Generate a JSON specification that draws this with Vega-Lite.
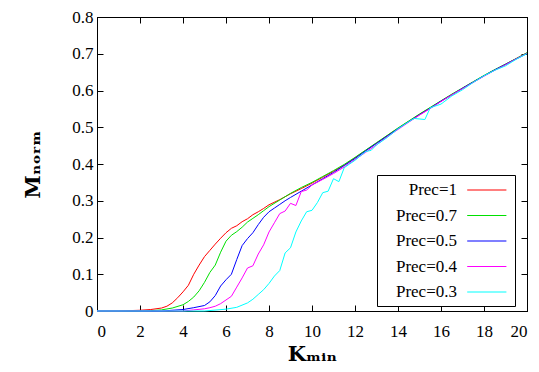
{
  "$schema": "https://vega.github.io/schema/vega-lite/v6.json",
  "width": 430,
  "height": 294,
  "autosize": {"type": "none"},
  "padding": {"left": 97, "top": 17, "right": 12, "bottom": 61},
  "background": "white",
  "config": {
    "view": {"stroke": "black", "strokeWidth": 1},
    "font": "Liberation Serif",
    "axis": {
      "grid": false,
      "domainColor": "black",
      "tickColor": "black",
      "tickSize": -6,
      "labelColor": "black",
      "labelFont": "Liberation Serif",
      "labelFontSize": 17,
      "titleFont": "DejaVu Serif",
      "titleFontSize": 21,
      "titleFontWeight": "bold",
      "titleColor": "black"
    }
  },
  "datasets": {
    "d": [
      {"s":"Prec=1","k":0,"m":0},{"s":"Prec=1","k":1,"m":0},{"s":"Prec=1","k":2,"m":0.002},{"s":"Prec=1","k":2.5,"m":0.004},{"s":"Prec=1","k":3,"m":0.008},{"s":"Prec=1","k":3.25,"m":0.013},{"s":"Prec=1","k":3.5,"m":0.022},{"s":"Prec=1","k":3.75,"m":0.036},{"s":"Prec=1","k":4,"m":0.052},{"s":"Prec=1","k":4.25,"m":0.07},{"s":"Prec=1","k":4.5,"m":0.1},{"s":"Prec=1","k":4.75,"m":0.125},{"s":"Prec=1","k":5,"m":0.148},{"s":"Prec=1","k":5.25,"m":0.165},{"s":"Prec=1","k":5.5,"m":0.182},{"s":"Prec=1","k":5.75,"m":0.198},{"s":"Prec=1","k":6,"m":0.213},{"s":"Prec=1","k":6.25,"m":0.225},{"s":"Prec=1","k":6.5,"m":0.232},{"s":"Prec=1","k":6.75,"m":0.243},{"s":"Prec=1","k":7,"m":0.251},{"s":"Prec=1","k":7.25,"m":0.262},{"s":"Prec=1","k":7.5,"m":0.27},{"s":"Prec=1","k":7.75,"m":0.279},{"s":"Prec=1","k":8,"m":0.289},{"s":"Prec=1","k":8.5,"m":0.303},{"s":"Prec=1","k":9,"m":0.319},{"s":"Prec=1","k":9.5,"m":0.333},{"s":"Prec=1","k":10,"m":0.348},{"s":"Prec=1","k":10.5,"m":0.364},{"s":"Prec=1","k":11,"m":0.38},{"s":"Prec=1","k":11.5,"m":0.397},{"s":"Prec=1","k":12,"m":0.417},{"s":"Prec=1","k":12.5,"m":0.437},{"s":"Prec=1","k":13,"m":0.457},{"s":"Prec=1","k":13.5,"m":0.477},{"s":"Prec=1","k":14,"m":0.497},{"s":"Prec=1","k":14.5,"m":0.516},{"s":"Prec=1","k":15,"m":0.535},{"s":"Prec=1","k":15.5,"m":0.553},{"s":"Prec=1","k":16,"m":0.571},{"s":"Prec=1","k":16.5,"m":0.589},{"s":"Prec=1","k":17,"m":0.606},{"s":"Prec=1","k":17.5,"m":0.623},{"s":"Prec=1","k":18,"m":0.64},{"s":"Prec=1","k":18.5,"m":0.656},{"s":"Prec=1","k":19,"m":0.671},{"s":"Prec=1","k":19.5,"m":0.687},{"s":"Prec=1","k":20,"m":0.702},
      {"s":"Prec=0.7","k":0,"m":0},{"s":"Prec=0.7","k":2,"m":0},{"s":"Prec=0.7","k":2.5,"m":0.001},{"s":"Prec=0.7","k":3,"m":0.003},{"s":"Prec=0.7","k":3.5,"m":0.008},{"s":"Prec=0.7","k":4,"m":0.017},{"s":"Prec=0.7","k":4.25,"m":0.026},{"s":"Prec=0.7","k":4.5,"m":0.038},{"s":"Prec=0.7","k":4.75,"m":0.055},{"s":"Prec=0.7","k":5,"m":0.078},{"s":"Prec=0.7","k":5.25,"m":0.105},{"s":"Prec=0.7","k":5.5,"m":0.125},{"s":"Prec=0.7","k":5.75,"m":0.16},{"s":"Prec=0.7","k":6,"m":0.19},{"s":"Prec=0.7","k":6.25,"m":0.206},{"s":"Prec=0.7","k":6.5,"m":0.216},{"s":"Prec=0.7","k":6.75,"m":0.228},{"s":"Prec=0.7","k":7,"m":0.242},{"s":"Prec=0.7","k":7.25,"m":0.252},{"s":"Prec=0.7","k":7.5,"m":0.262},{"s":"Prec=0.7","k":7.75,"m":0.273},{"s":"Prec=0.7","k":8,"m":0.284},{"s":"Prec=0.7","k":8.5,"m":0.302},{"s":"Prec=0.7","k":9,"m":0.32},{"s":"Prec=0.7","k":9.5,"m":0.336},{"s":"Prec=0.7","k":10,"m":0.35},{"s":"Prec=0.7","k":10.5,"m":0.366},{"s":"Prec=0.7","k":11,"m":0.382},{"s":"Prec=0.7","k":11.5,"m":0.399},{"s":"Prec=0.7","k":12,"m":0.418},{"s":"Prec=0.7","k":12.5,"m":0.438},{"s":"Prec=0.7","k":13,"m":0.458},{"s":"Prec=0.7","k":13.5,"m":0.478},{"s":"Prec=0.7","k":14,"m":0.498},{"s":"Prec=0.7","k":14.5,"m":0.517},{"s":"Prec=0.7","k":15,"m":0.536},{"s":"Prec=0.7","k":15.5,"m":0.554},{"s":"Prec=0.7","k":16,"m":0.572},{"s":"Prec=0.7","k":16.5,"m":0.59},{"s":"Prec=0.7","k":17,"m":0.607},{"s":"Prec=0.7","k":17.5,"m":0.624},{"s":"Prec=0.7","k":18,"m":0.641},{"s":"Prec=0.7","k":18.5,"m":0.657},{"s":"Prec=0.7","k":19,"m":0.672},{"s":"Prec=0.7","k":19.5,"m":0.687},{"s":"Prec=0.7","k":20,"m":0.703},
      {"s":"Prec=0.5","k":0,"m":0},{"s":"Prec=0.5","k":3,"m":0},{"s":"Prec=0.5","k":4,"m":0.004},{"s":"Prec=0.5","k":4.5,"m":0.009},{"s":"Prec=0.5","k":5,"m":0.015},{"s":"Prec=0.5","k":5.25,"m":0.025},{"s":"Prec=0.5","k":5.5,"m":0.042},{"s":"Prec=0.5","k":5.75,"m":0.068},{"s":"Prec=0.5","k":6,"m":0.085},{"s":"Prec=0.5","k":6.25,"m":0.1},{"s":"Prec=0.5","k":6.5,"m":0.14},{"s":"Prec=0.5","k":6.75,"m":0.178},{"s":"Prec=0.5","k":7,"m":0.197},{"s":"Prec=0.5","k":7.25,"m":0.213},{"s":"Prec=0.5","k":7.5,"m":0.235},{"s":"Prec=0.5","k":7.75,"m":0.255},{"s":"Prec=0.5","k":8,"m":0.27},{"s":"Prec=0.5","k":8.25,"m":0.28},{"s":"Prec=0.5","k":8.5,"m":0.29},{"s":"Prec=0.5","k":8.75,"m":0.3},{"s":"Prec=0.5","k":9,"m":0.309},{"s":"Prec=0.5","k":9.5,"m":0.326},{"s":"Prec=0.5","k":10,"m":0.343},{"s":"Prec=0.5","k":10.5,"m":0.36},{"s":"Prec=0.5","k":11,"m":0.377},{"s":"Prec=0.5","k":11.5,"m":0.396},{"s":"Prec=0.5","k":12,"m":0.415},{"s":"Prec=0.5","k":12.5,"m":0.436},{"s":"Prec=0.5","k":13,"m":0.456},{"s":"Prec=0.5","k":13.5,"m":0.476},{"s":"Prec=0.5","k":14,"m":0.496},{"s":"Prec=0.5","k":14.5,"m":0.515},{"s":"Prec=0.5","k":15,"m":0.534},{"s":"Prec=0.5","k":15.5,"m":0.552},{"s":"Prec=0.5","k":16,"m":0.571},{"s":"Prec=0.5","k":16.5,"m":0.588},{"s":"Prec=0.5","k":17,"m":0.606},{"s":"Prec=0.5","k":17.5,"m":0.623},{"s":"Prec=0.5","k":18,"m":0.64},{"s":"Prec=0.5","k":18.5,"m":0.656},{"s":"Prec=0.5","k":19,"m":0.671},{"s":"Prec=0.5","k":19.5,"m":0.686},{"s":"Prec=0.5","k":20,"m":0.701},
      {"s":"Prec=0.4","k":0,"m":0},{"s":"Prec=0.4","k":4,"m":0},{"s":"Prec=0.4","k":4.5,"m":0.003},{"s":"Prec=0.4","k":5,"m":0.006},{"s":"Prec=0.4","k":5.25,"m":0.009},{"s":"Prec=0.4","k":5.5,"m":0.013},{"s":"Prec=0.4","k":5.75,"m":0.02},{"s":"Prec=0.4","k":6,"m":0.03},{"s":"Prec=0.4","k":6.25,"m":0.04},{"s":"Prec=0.4","k":6.5,"m":0.065},{"s":"Prec=0.4","k":6.75,"m":0.09},{"s":"Prec=0.4","k":7,"m":0.117},{"s":"Prec=0.4","k":7.25,"m":0.123},{"s":"Prec=0.4","k":7.5,"m":0.155},{"s":"Prec=0.4","k":7.75,"m":0.18},{"s":"Prec=0.4","k":8,"m":0.215},{"s":"Prec=0.4","k":8.25,"m":0.24},{"s":"Prec=0.4","k":8.5,"m":0.265},{"s":"Prec=0.4","k":8.75,"m":0.272},{"s":"Prec=0.4","k":9,"m":0.293},{"s":"Prec=0.4","k":9.25,"m":0.287},{"s":"Prec=0.4","k":9.5,"m":0.325},{"s":"Prec=0.4","k":9.75,"m":0.329},{"s":"Prec=0.4","k":10,"m":0.343},{"s":"Prec=0.4","k":10.5,"m":0.358},{"s":"Prec=0.4","k":11,"m":0.374},{"s":"Prec=0.4","k":11.5,"m":0.392},{"s":"Prec=0.4","k":12,"m":0.412},{"s":"Prec=0.4","k":12.5,"m":0.432},{"s":"Prec=0.4","k":13,"m":0.452},{"s":"Prec=0.4","k":13.5,"m":0.474},{"s":"Prec=0.4","k":14,"m":0.494},{"s":"Prec=0.4","k":14.5,"m":0.514},{"s":"Prec=0.4","k":15,"m":0.533},{"s":"Prec=0.4","k":15.5,"m":0.551},{"s":"Prec=0.4","k":16,"m":0.57},{"s":"Prec=0.4","k":16.5,"m":0.588},{"s":"Prec=0.4","k":17,"m":0.605},{"s":"Prec=0.4","k":17.5,"m":0.622},{"s":"Prec=0.4","k":18,"m":0.639},{"s":"Prec=0.4","k":18.5,"m":0.655},{"s":"Prec=0.4","k":19,"m":0.67},{"s":"Prec=0.4","k":19.5,"m":0.686},{"s":"Prec=0.4","k":20,"m":0.701},
      {"s":"Prec=0.3","k":0,"m":0},{"s":"Prec=0.3","k":5,"m":0},{"s":"Prec=0.3","k":6,"m":0.005},{"s":"Prec=0.3","k":6.5,"m":0.01},{"s":"Prec=0.3","k":7,"m":0.022},{"s":"Prec=0.3","k":7.25,"m":0.032},{"s":"Prec=0.3","k":7.5,"m":0.045},{"s":"Prec=0.3","k":7.75,"m":0.058},{"s":"Prec=0.3","k":8,"m":0.075},{"s":"Prec=0.3","k":8.25,"m":0.095},{"s":"Prec=0.3","k":8.5,"m":0.11},{"s":"Prec=0.3","k":8.75,"m":0.158},{"s":"Prec=0.3","k":9,"m":0.172},{"s":"Prec=0.3","k":9.25,"m":0.215},{"s":"Prec=0.3","k":9.5,"m":0.245},{"s":"Prec=0.3","k":9.75,"m":0.27},{"s":"Prec=0.3","k":10,"m":0.274},{"s":"Prec=0.3","k":10.25,"m":0.295},{"s":"Prec=0.3","k":10.5,"m":0.322},{"s":"Prec=0.3","k":10.75,"m":0.326},{"s":"Prec=0.3","k":11,"m":0.36},{"s":"Prec=0.3","k":11.25,"m":0.352},{"s":"Prec=0.3","k":11.5,"m":0.39},{"s":"Prec=0.3","k":11.75,"m":0.4},{"s":"Prec=0.3","k":12,"m":0.41},{"s":"Prec=0.3","k":12.5,"m":0.434},{"s":"Prec=0.3","k":12.75,"m":0.437},{"s":"Prec=0.3","k":13,"m":0.452},{"s":"Prec=0.3","k":13.5,"m":0.472},{"s":"Prec=0.3","k":14,"m":0.496},{"s":"Prec=0.3","k":14.5,"m":0.515},{"s":"Prec=0.3","k":14.75,"m":0.524},{"s":"Prec=0.3","k":15.25,"m":0.521},{"s":"Prec=0.3","k":15.5,"m":0.553},{"s":"Prec=0.3","k":16,"m":0.563},{"s":"Prec=0.3","k":16.5,"m":0.585},{"s":"Prec=0.3","k":17,"m":0.602},{"s":"Prec=0.3","k":17.5,"m":0.622},{"s":"Prec=0.3","k":18,"m":0.64},{"s":"Prec=0.3","k":18.5,"m":0.655},{"s":"Prec=0.3","k":19,"m":0.667},{"s":"Prec=0.3","k":19.5,"m":0.685},{"s":"Prec=0.3","k":20,"m":0.7}
    ]
  },
  "data": {"name": "d"},
  "layer": [
    {
      "mark": {"type": "line", "strokeWidth": 1},
      "encoding": {
        "x": {
          "field": "k", "type": "quantitative",
          "scale": {"domain": [0, 20], "nice": false},
          "axis": {"orient": "bottom", "title": "Kₘᵢₙ", "values": [0,2,4,6,8,10,12,14,16,18,20], "labelPadding": 18, "titlePadding": 4}
        },
        "y": {
          "field": "m", "type": "quantitative",
          "scale": {"domain": [0, 0.8], "nice": false},
          "axis": {"orient": "left", "title": "Mₙₒᵣₘ", "values": [0,0.1,0.2,0.3,0.4,0.5,0.6,0.7,0.8], "format": "~g", "labelPadding": 10, "titlePadding": 28}
        },
        "color": {
          "field": "s", "type": "nominal",
          "scale": {"domain": ["Prec=1","Prec=0.7","Prec=0.5","Prec=0.4","Prec=0.3"], "range": ["#ff0000","#00e000","#0000ff","#ff00ff","#00ffff"]},
          "legend": {
            "title": null, "orient": "none", "legendX": 280, "legendY": 158,
            "strokeColor": "black", "fillColor": "white", "padding": 6,
            "symbolType": "M9.4,0H14.3", "symbolSize": 256, "symbolStrokeWidth": 1.2,
            "labelFont": "Liberation Serif", "labelFontSize": 17, "labelColor": "black",
            "labelAlign": "right", "labelOffset": 56, "rowPadding": 8.5
          }
        }
      }
    },
    {
      "mark": {"type": "point", "opacity": 0},
      "encoding": {
        "x": {"field": "k", "type": "quantitative", "axis": {"orient": "top", "title": null, "labels": false, "values": [0,2,4,6,8,10,12,14,16,18,20]}},
        "y": {"field": "m", "type": "quantitative", "axis": {"orient": "right", "title": null, "labels": false, "values": [0,0.1,0.2,0.3,0.4,0.5,0.6,0.7,0.8]}}
      }
    }
  ],
  "resolve": {"axis": {"x": "independent", "y": "independent"}}
}
